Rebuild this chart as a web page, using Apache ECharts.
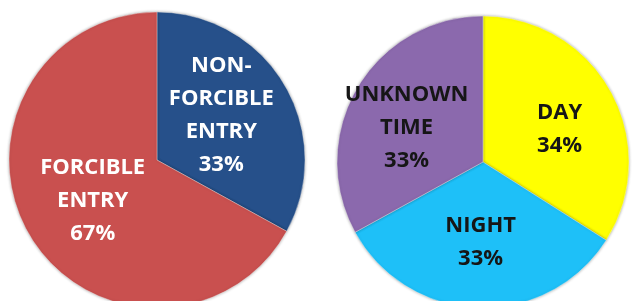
<!DOCTYPE html>
<html>
<head>
<meta charset="utf-8">
<script src="https://cdn.jsdelivr.net/npm/echarts@6/dist/echarts.min.js"></script>
<style>
  html, body { margin: 0; padding: 0; background: #fff; }
  #main { width: 633px; height: 301px; }
</style>
</head>
<body>
<div id="main"></div>
<script>
// entry type
var entryNames = ['NON-\nFORCIBLE\nENTRY', 'FORCIBLE\nENTRY'];
var entryValues = [33, 67];
var entryColors = ['#26508a', '#c9504f'];
var entryShift = [[-2, -6], [2, 2]];

// time of day
var timeNames = ['DAY', 'NIGHT', 'UNKNOWN\nTIME'];
var timeValues = [34, 33, 33];
var timeColors = ['#ffff00', '#1ec0f8', '#8b69ad'];
var timeShift = [[10, 4], [0, 4], [-11, 4]];

function makeData(names, values, colors, shift) {
    return names.map(function (n, i) {
        return {
            name: n,
            value: values[i],
            itemStyle: { color: colors[i] },
            label: { offset: shift[i] }
        };
    });
}

var chart = echarts.init(document.getElementById('main'));
var labelBase = {
    show: true,
    position: 'inside',
    formatter: '{b}\n{c}%',
    fontFamily: 'Open Sans',
    fontWeight: 'bold',
    fontSize: 22,
    lineHeight: 33,
    align: 'center'
};
var sliceStyle = {
    borderColor: 'rgba(255,255,255,0.35)',
    borderWidth: 1,
    shadowBlur: 3,
    shadowColor: 'rgba(0,0,0,0.35)'
};

option = {
    backgroundColor: '#fff',
    animation: false,
    series: [
        {
            type: 'pie',
            center: [157, 160],
            radius: 148,
            startAngle: 90,
            clockwise: true,
            silent: true,
            itemStyle: sliceStyle,
            label: Object.assign({}, labelBase, { color: '#fff' }),
            labelLine: { show: false },
            data: makeData(entryNames, entryValues, entryColors, entryShift)
        },
        {
            type: 'pie',
            center: [483, 162],
            radius: 146,
            startAngle: 90,
            clockwise: true,
            silent: true,
            itemStyle: sliceStyle,
            label: Object.assign({}, labelBase, { color: '#161616' }),
            labelLine: { show: false },
            data: makeData(timeNames, timeValues, timeColors, timeShift)
        }
    ]
};
chart.setOption(option);
</script>
</body>
</html>
